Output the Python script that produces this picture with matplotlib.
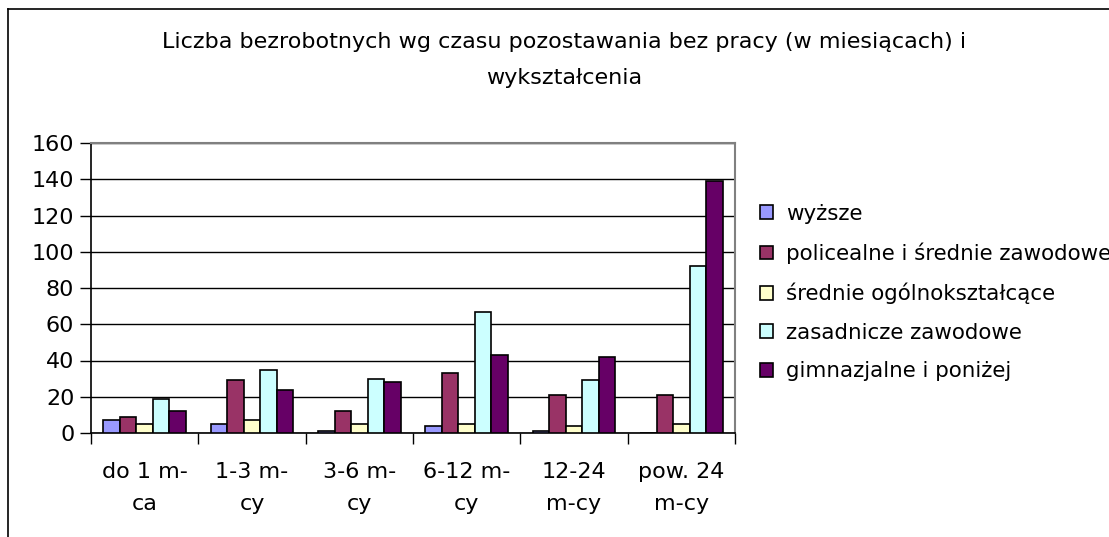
import numpy as np
import matplotlib.pyplot as plt
from matplotlib.lines import Line2D

categories = ["do 1 m-\nca", "1-3 m-\ncy", "3-6 m-\ncy", "6-12 m-\ncy", "12-24\nm-cy", "pow. 24\nm-cy"]
series_names = ["wyższe", "policealne i średnie zawodowe", "średnie ogólnokształcące",
                "zasadnicze zawodowe", "gimnazjalne i poniżej"]
wyzsze = [7, 5, 1, 4, 1, 0]
policealne = [9, 29, 12, 33, 21, 21]
srednie_ogolne = [5, 7, 5, 5, 4, 5]
zasadnicze = [19, 35, 30, 67, 29, 92]
gimnazjalne = [12, 24, 28, 43, 42, 139]
colors = ["#9999FF", "#993366", "#FFFFCC", "#CCFFFF", "#660066"]
title = "Liczba bezrobotnych wg czasu pozostawania bez pracy (w miesiącach) i\nwykształcenia"

plt.rcParams['font.family'] = ['DejaVu Sans']
FS = 16
fig = plt.figure(figsize=(11.09, 5.37), dpi=100)
ax = fig.add_axes([91 / 1109, 1 - 433 / 537, (735 - 91) / 1109, (433 - 143) / 537])

# outer chart border (only top and left visible in the crop)
fig.add_artist(Line2D([8 / 1109, 1.0], [1 - 9 / 537] * 2, color="black", lw=1.2))
fig.add_artist(Line2D([8 / 1109] * 2, [0.0, 1 - 9 / 537], color="black", lw=1.2))

x = np.arange(len(categories))
all_series = [wyzsze, policealne, srednie_ogolne, zasadnicze, gimnazjalne]
w = 0.154
for i, (vals, name, c) in enumerate(zip(all_series, series_names, colors)):
    ax.bar(x + (i - 2) * w, vals, w, color=c, edgecolor="black", lw=1.2, label=name, zorder=3)

ax.set_xlim(-0.5, len(categories) - 0.5)
ax.set_ylim(0, 160)
ax.set_yticks(range(0, 161, 20))
ax.yaxis.grid(True, color="black", lw=1)
ax.set_axisbelow(True)
ax.tick_params(axis="y", labelsize=FS, length=8, width=1, direction="out", pad=4)

ax.set_xticks(x)
ax.set_xticklabels(categories, fontsize=FS, linespacing=1.75)
ax.tick_params(axis="x", length=0, pad=21)
ax.set_xticks(np.arange(-0.5, len(categories)), minor=True)
ax.tick_params(axis="x", which="minor", length=8, width=1)

for s in ["top", "right"]:
    ax.spines[s].set_color("#808080")
    ax.spines[s].set_linewidth(1.5)
for s in ["left", "bottom"]:
    ax.spines[s].set_color("black")
    ax.spines[s].set_linewidth(1.2)

fig.text(564 / 1109, 1 - 60 / 537, title, ha="center", va="center", fontsize=FS, linespacing=1.95)

ax.legend(loc="center left", bbox_to_anchor=(1.025, 0.484), frameon=False, fontsize=15.4,
          handlelength=0.62, handleheight=0.62, handletextpad=0.6, labelspacing=0.87,
          borderaxespad=0)

fig.savefig("out.png", dpi=100)
